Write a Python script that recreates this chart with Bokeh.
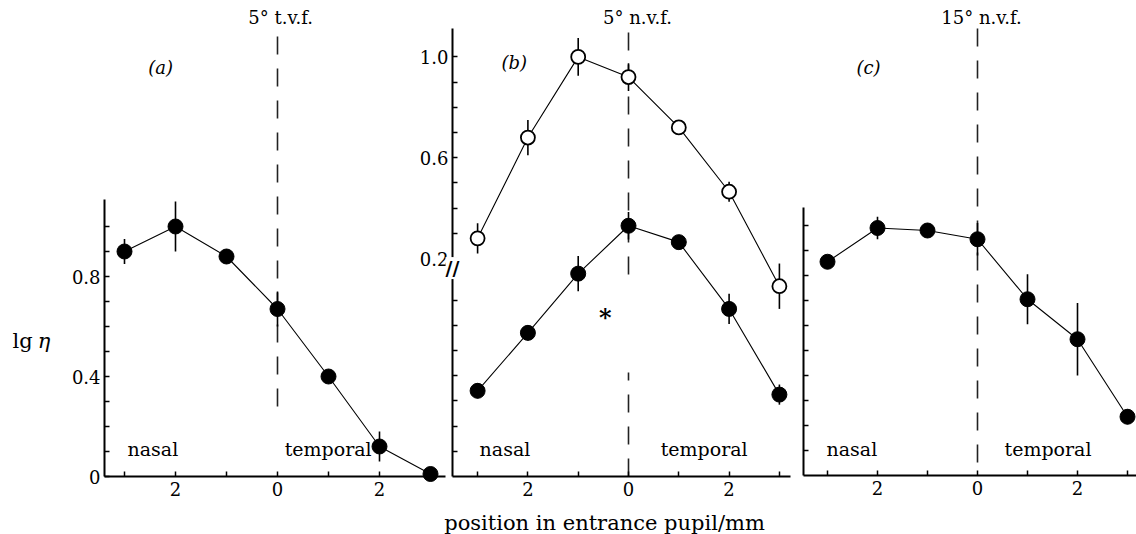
from bokeh.plotting import figure
from bokeh.models import (Range1d, LinearAxis, FixedTicker, CustomJSTickFormatter,
                          Label, ColumnDataSource)
from bokeh.embed import file_html
from bokeh.resources import INLINE

# ---------------- data ----------------
positions = [-3, -2, -1, 0, 1, 2, 3]          # position in entrance pupil / mm

a_y   = [0.90, 1.00, 0.88, 0.67, 0.40, 0.12, 0.01]
a_err = [0.05, 0.10, 0.03, 0.07, 0.02, 0.06, 0.02]

b_open_y   = [0.28, 0.68, 1.00, 0.92, 0.72, 0.465, 0.09]
b_open_err = [0.06, 0.07, 0.075, 0.055, 0.025, 0.04, 0.09]
b_fill_y   = [0.34, 0.57, 0.805, 0.995, 0.93, 0.665, 0.325]   # lower (broken) scale
b_fill_err = [0.03, 0.03, 0.07, 0.055, 0.02, 0.06, 0.04]

c_y   = [0.855, 0.99, 0.98, 0.945, 0.705, 0.545, 0.235]
c_err = [0.02, 0.045, 0.03, 0.065, 0.10, 0.145, 0.03]

a_ticks_labelled = [[0, "0"], [0.4, "0.4"], [0.8, "0.8"]]
b_ticks_labelled = [[0.2, "0.2"], [0.6, "0.6"], [1.0, "1.0"]]
panel_titles = ["5\u00b0 t.v.f.", "5\u00b0 n.v.f.", "15\u00b0 n.v.f."]
panel_tags = ["(a)", "(b)", "(c)"]
x_title = "position in entrance pupil/mm"
y_title = ["lg", "\u03b7"]

FONT = "DejaVu Serif"
W, H = 1136, 534


# ------------- layout helpers (panel placement on the canvas) -------------
def xr(zero_px, ppu):
    return Range1d(-zero_px / ppu, (W - zero_px) / ppu)


def yr(zero_px, ppu):
    return Range1d(-(H - zero_px) / ppu, zero_px / ppu)


p = figure(width=W, height=H, x_range=xr(277, 51), y_range=yr(476, 250),
           output_backend="svg", toolbar_location=None,
           x_axis_type=None, y_axis_type=None, min_border=0)
p.outline_line_color = None
p.background_fill_color = "white"
p.border_fill_color = "white"

b_up_zero = 258 + 0.2 * 252
b_off = (476 - 258) / 252 - 0.2          # shift between upper and lower (broken) scales
p.extra_x_ranges = {"xb": xr(628, 50.3), "xc": xr(977, 50)}
p.extra_y_ranges = {"yb": yr(b_up_zero, 252), "yb2": yr(476, 252), "yc": yr(475, 250)}

xfmt_code = """
const t = Math.round(tick);
return (t === 0 || Math.abs(t) === 2) ? String(Math.abs(t)) : '';
"""
yfmt_code = """
for (const pair of labs) { if (Math.abs(tick - pair[0]) < 1e-6) return pair[1]; }
return '';
"""


def style_axis(ax):
    ax.axis_line_width = 2
    ax.axis_line_color = "black"
    ax.major_tick_in = 5
    ax.major_tick_out = 0
    ax.major_tick_line_width = 1.5
    ax.minor_tick_line_color = None
    ax.major_label_text_font = FONT
    ax.major_label_text_font_size = "18px"
    ax.major_label_text_color = "black"


def add_axes(xname, yname, yname_x, xloc, xbounds, yticks, labs, ybounds, yname_y=None):
    xa = LinearAxis(ticker=FixedTicker(ticks=positions),
                    formatter=CustomJSTickFormatter(code=xfmt_code),
                    x_range_name=xname, y_range_name=yname_x,
                    fixed_location=0, bounds=xbounds)
    style_axis(xa)
    xa.major_label_standoff = 5
    p.add_layout(xa, "below")
    ya = LinearAxis(ticker=FixedTicker(ticks=yticks),
                    formatter=CustomJSTickFormatter(args=dict(labs=labs), code=yfmt_code),
                    x_range_name=xname, y_range_name=yname_y or yname_x,
                    fixed_location=xloc, bounds=ybounds)
    style_axis(ya)
    ya.major_label_standoff = 4
    p.add_layout(ya, "left")


def series(ys, errs, filled, xname, yname):
    src = ColumnDataSource(dict(x=positions, y=ys,
                                lo=[v - e for v, e in zip(ys, errs)],
                                hi=[v + e for v, e in zip(ys, errs)]))
    kw = dict(source=src, x_range_name=xname, y_range_name=yname)
    p.line("x", "y", line_color="black", line_width=1.1, **kw)
    p.segment(x0="x", y0="lo", x1="x", y1="hi", line_color="black", line_width=1.6, **kw)
    p.scatter("x", "y", size=15 if filled else 14, marker="circle",
              fill_color="black" if filled else "white", line_color="black",
              line_width=1 if filled else 1.8, **kw)


def text(x, y, s, xname, yname, size="19px", align="left", style="normal", **kw):
    p.add_layout(Label(x=x, y=y, text=s, text_font=FONT, text_font_size=size,
                       text_align=align, text_baseline="middle", text_font_style=style,
                       text_color="black", x_range_name=xname, y_range_name=yname, **kw))


def vdash(y0, y1, xname, yname):
    p.segment(x0=[0], y0=[y0], x1=[0], y1=[y1], line_color="#222", line_width=1.6,
              line_dash="18 14", x_range_name=xname, y_range_name=yname)


tenths = [round(0.1 * k, 1) for k in range(0, 11)]

# ---------------- panel (a) ----------------
A = ("default", "default")
add_axes("default", None, "default", -3.392, (-3.392, 3.294), tenths, a_ticks_labelled, (0, 1.108))
vdash(0.28, 1.77, *A)
series(a_y, a_err, True, *A)
text(0.06, 1.836, panel_titles[0], *A, size="18px", align="center")
text(-2.29, 1.636, panel_tags[0], *A, size="18px", align="center", style="italic")
text(-2.94, 0.11, "nasal", *A)
text(0.14, 0.11, "temporal", *A)
text(-5.196, 0.544, y_title[0], *A, size="21px")
text(-4.70, 0.544, y_title[1], *A, size="21px", style="italic")

# ---------------- panel (b) ----------------
b_lo, b_hi = 0.2 - (476 - 258) / 252, 0.2 + (258 - 28) / 252
b_ticks = ([round(0.1 * k, 1) for k in range(2, 11)] +
           [round(0.1 * k - b_off, 4) for k in range(1, 8)])
add_axes("xb", None, "yb2", -3.499, (-3.499, 3.221), b_ticks, b_ticks_labelled,
         (b_lo, b_hi), yname_y="yb")
vdash(0.137, b_hi, "xb", "yb")
vdash(0, 0.413, "xb", "yb2")
series(b_open_y, b_open_err, False, "xb", "yb")
series(b_fill_y, b_fill_err, True, "xb", "yb2")
text(0.18, 1.156, panel_titles[1], "xb", "yb", size="18px", align="center")
text(-2.27, 0.978, panel_tags[1], "xb", "yb", size="18px", align="center", style="italic")
text(-2.96, 0.108, "nasal", "xb", "yb2")
text(0.64, 0.108, "temporal", "xb", "yb2")
text(-0.46, 0.63, "*", "xb", "yb2", size="24px", align="center", style="bold")
text(-0.477, -0.183, x_title, "xb", "yb2", size="21px", align="center")
p.add_layout(Label(x=-3.499, y=0.162, text="//", text_font="DejaVu Sans", text_font_size="19px",
                   text_font_style="bold", text_align="center", text_baseline="middle",
                   background_fill_color="white", text_color="black",
                   x_range_name="xb", y_range_name="yb"))

# ---------------- panel (c) ----------------
add_axes("xc", None, "yc", -3.48, (-3.48, 3.18), tenths[1:], [], (0, 1.072))
vdash(0.052, 1.788, "xc", "yc")
series(c_y, c_err, True, "xc", "yc")
text(0.08, 1.832, panel_titles[2], "xc", "yc", size="18px", align="center")
text(-2.18, 1.632, panel_tags[2], "xc", "yc", size="18px", align="center", style="italic")
text(-3.02, 0.108, "nasal", "xc", "yc")
text(0.54, 0.108, "temporal", "xc", "yc")

open("out.html", "w").write(file_html(p, INLINE))
